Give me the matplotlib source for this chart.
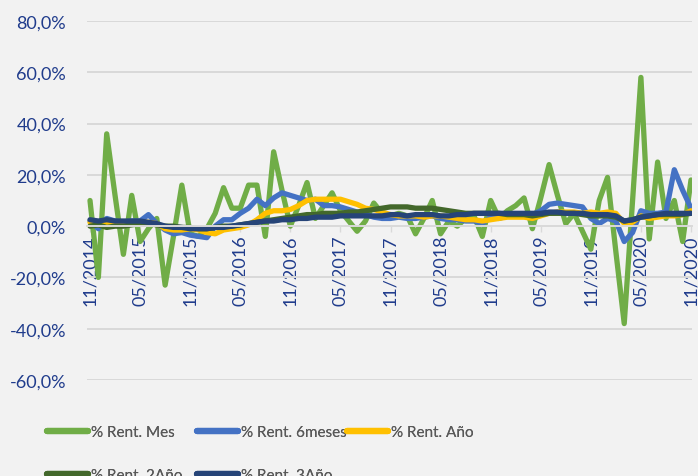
import numpy as np
import pandas as pd
import matplotlib
matplotlib.use("Agg")
import matplotlib.pyplot as plt
from matplotlib.ticker import FuncFormatter

# --- Data (monthly returns, %) ---
months = pd.date_range("2014-11-01", periods=73, freq="MS")
month_labels = [d.strftime("%m/%Y") for d in months]

rent_mes = [10, -20, 36, 12, -11, 12, -6, -1, 3, -23, -4, 16,
            -3, -4, -1, 5, 15, 7, 7, 16, 16, -4, 29, 14,
            0, 8, 17, 3, 8, 13, 6, 2, -2, 2, 9, 5,
            4, 5, 4, -3, 3, 10, -3, 2, 0, 3, 4, -4,
            10, 3, 6, 8, 11, -1, 11, 24, 12, 1, 5, -2,
            -9, 10, 19, -10, -38, 10, 58, -5, 25, 3, 10, -6,
            18]

rent_6meses = [2, -1, 3, 2, 1.5, 2, 2, 4.5, 1, -1.5, -3, -2.5,
               -3.5, -4, -4.5, 0, 2.5, 2.5, 5, 7, 10.5, 8, 11, 13,
               12, 11, 10, 10.5, 8, 8, 7.5, 6.5, 5.5, 4.5, 3.5, 3,
               3, 3.5, 3, 3, 3.5, 4, 3, 2.5, 2.5, 2, 2, 1,
               3.5, 3, 4, 4.5, 4.5, 4.5, 6, 8.5, 9, 8.5, 8, 7.5,
               3, 1, 3, 2, -6, -2.5, 6, 5, 5, 5.5, 22, 14,
               7]

rent_anio = [1.5, 1, 1, 1.5, 1, 1, 1.5, 1.5, 1, -1, -1.5, -1.5,
             -1, -1.5, -2.5, -3, -1.5, -1, -0.5, 0.5, 2.5, 5, 6, 6,
             6.5, 8, 10, 10.5, 10.5, 10.5, 10.5, 9.5, 8.5, 7, 6.5, 5.5,
             4.5, 4, 4, 4, 3.5, 4, 4, 3.5, 3, 2.5, 2.5, 2,
             2.5, 3, 3.5, 3.5, 3.5, 3, 4, 5, 5.5, 5.5, 5.5, 5,
             5.5, 5, 5.5, 5, 1, 1.5, 4, 3, 3.5, 4, 4, 4.5,
             6]

rent_2anio = [0, 0.5, -0.5, 0, 0, 0.5, 1, 1, 0.5, 0, 0, -0.5,
              -0.5, -1, -1, -0.5, 0, 0, 0.5, 1, 1.5, 2, 2.5, 3,
              3.5, 4, 4.5, 4.5, 5, 5, 5, 5.5, 5.5, 6, 6.5, 7,
              7.5, 7.5, 7.5, 7, 7, 7, 6.5, 6, 5.5, 5, 5, 5,
              5, 5, 4.5, 4.5, 4.5, 4, 4.5, 5, 5, 5, 5, 4.5,
              4, 4, 4, 3.5, 2, 2.5, 3.5, 4, 4.5, 4.5, 4.5, 4.5,
              5]

rent_3anio = [2.5, 2, 2.5, 2, 2, 2, 2, 1.5, 1, 0, -0.5, -0.5,
              -1, -1, -1, -0.5, -0.5, 0, 0.5, 1, 1.5, 2, 2, 2.5,
              2.5, 3, 3, 3.5, 3.5, 3.5, 4, 4, 4, 4, 4, 4,
              4.5, 4.5, 4, 4.5, 4.5, 4.5, 4, 4, 4.5, 4.5, 5, 5,
              5, 5, 5, 5, 5, 5, 5, 5.5, 5.5, 5, 5, 5,
              4.5, 4.5, 4.5, 4, 2, 2.5, 3.5, 4, 4.5, 5, 5, 5,
              5]

series = [
    ("% Rent. Mes", rent_mes, "#70AD47"),
    ("% Rent. 6meses", rent_6meses, "#4472C4"),
    ("% Rent. Año", rent_anio, "#FFC000"),
    ("% Rent. 2Año", rent_2anio, "#43682B"),
    ("% Rent. 3Año", rent_3anio, "#264478"),
]

# --- Style ---
bg = "#F2F2F2"
grid_col = "#D9D9D9"
tick_col = "#203C8C"
legend_col = "#595959"
plt.rcParams["font.family"] = ["Lato", "DejaVu Sans"]
fs = 13
leg_fs = 11

fig = plt.figure(figsize=(6.98, 4.77), dpi=100, facecolor=bg)
ax = fig.add_axes([87 / 698, 1 - 381 / 477, (692 - 87) / 698, (381 - 22) / 477])
ax.set_facecolor(bg)

x = np.arange(len(months))
lines = []
for name, vals, col in series:
    ln, = ax.plot(x, vals, color=col, lw=3.8, solid_capstyle="round",
                  solid_joinstyle="round", label=name)
    lines.append(ln)

# axis crosses at 0 (set before tick styling, it resets the ticks)
for side in ["top", "right", "left"]:
    ax.spines[side].set_visible(False)
ax.spines["bottom"].set_position(("data", 0))
ax.spines["bottom"].set_color(grid_col)
ax.spines["bottom"].set_linewidth(1.4)

ax.set_ylim(-60, 80)
ax.set_yticks(np.arange(-60, 81, 20))
ax.yaxis.set_major_formatter(FuncFormatter(lambda v, p: f"{v:.1f}%".replace(".", ",")))
ax.set_xlim(-0.36, 72.12)
ax.set_xticks(x[::6])
ax.set_xticklabels(month_labels[::6])

ax.grid(axis="y", color=grid_col, lw=1.4)
ax.set_axisbelow(True)

ax.tick_params(axis="y", length=0, pad=15, labelsize=fs, labelcolor=tick_col)
ax.tick_params(axis="x", length=4, width=1, color=grid_col, pad=2,
               labelsize=fs, labelcolor=tick_col, labelrotation=90)

# --- Legend: three columns placed like the Excel legend ---
cols = [[0, 3], [1, 4], [2]]
col_x = [47, 197, 347]
for idx, cx in zip(cols, col_x):
    leg = fig.legend([lines[i] for i in idx], [series[i][0] for i in idx],
                     loc="upper left", bbox_to_anchor=(cx / 698, 1 - 426 / 477),
                     frameon=False, fontsize=leg_fs, handlelength=2.7,
                     handletextpad=0.2, labelspacing=1.9, borderpad=0,
                     borderaxespad=0, labelcolor=legend_col)
    for h in leg.legend_handles:
        h.set_linewidth(4.5)
    fig.add_artist(leg)

fig.savefig("out.png", dpi=100, facecolor=bg)
